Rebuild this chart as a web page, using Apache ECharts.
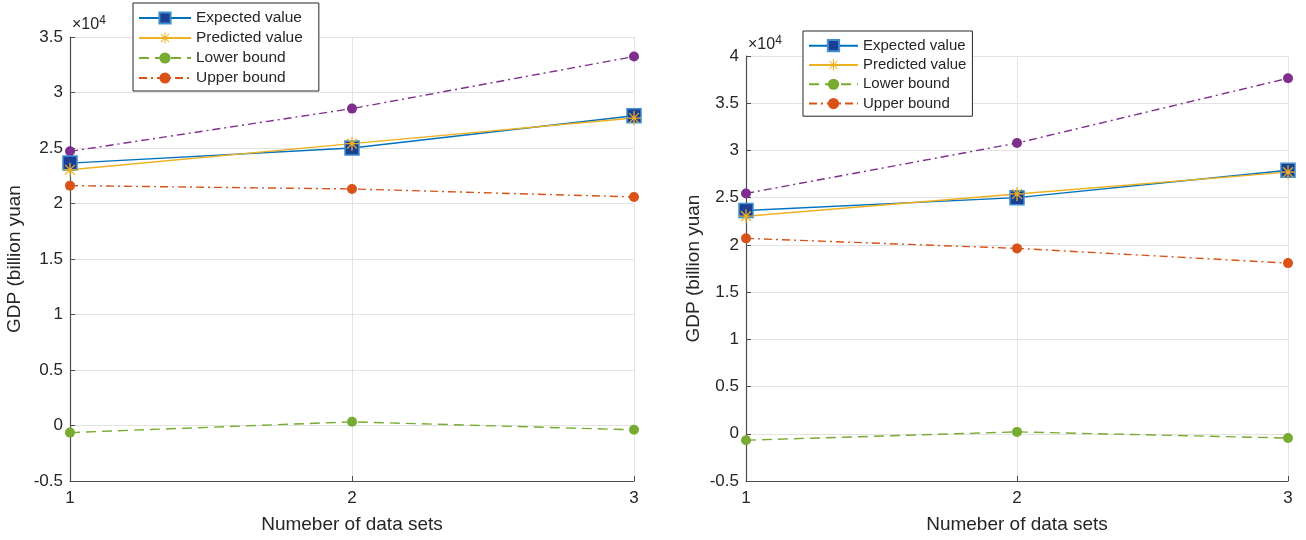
<!DOCTYPE html>
<html>
<head>
<meta charset="utf-8">
<script src="https://cdn.jsdelivr.net/npm/echarts@6/dist/echarts.min.js"></script>
<style>
  html, body { margin: 0; padding: 0; background: #fff; }
  #chart { width: 1306px; height: 540px; }
</style>
</head>
<body>
<div id="chart"></div>
<script>
// Data sets on the x axis
const dataSets = [1, 2, 3];

// GDP values (billion yuan), shared by both panels
const expectedValue = [23640, 25000, 27900];
const predictedValue = [23040, 25390, 27700];

// Left panel bounds
const lowerBoundA = [-640, 330, -390];
const upperBoundA = [21610, 21310, 20590];
const upperLimitA = [24700, 28550, 33240];

// Right panel bounds
const lowerBoundB = [-680, 200, -450];
const upperBoundB = [20690, 19630, 18070];
const upperLimitB = [25450, 30780, 37640];

// Y tick settings (labels shown in units of 1e4)
const yTicksA = { min: -5000, max: 35000, interval: 5000 };
const yTicksB = { min: -5000, max: 40000, interval: 5000 };

const legendNames = ['Expected value', 'Predicted value', 'Lower bound', 'Upper bound'];

const C = {
  blue: '#0072BD',
  navy: '#1C3F94',
  yellow: '#EDB120',
  green: '#77AC30',
  orange: '#D95319',
  purple: '#7E2F8E',
  axis: '#4d4d4d',
  text: '#262626',
  grid: '#e3e3e3'
};
const FONT = 'Liberation Sans, Arial, Helvetica, sans-serif';

// asterisk marker built from four thin bars
const STAR = 'path://M0 9.1L20 9.1L20 10.9L0 10.9Z M9.1 0L10.9 0L10.9 20L9.1 20Z ' +
  'M3.6 2.4L17.6 16.4L16.4 17.6L2.4 3.6Z M16.4 2.4L17.6 3.6L3.6 17.6L2.4 16.4Z';

const pairs = (ys) => dataSets.map((x, i) => [x, ys[i]]);

function panelSeries(idx, lower, upper, limit) {
  const common = { xAxisIndex: idx, yAxisIndex: idx, clip: false, animation: false, z: 3 };
  return [
    Object.assign({
      name: 'Upper limit', type: 'line', data: pairs(limit),
      symbol: 'circle', symbolSize: 10,
      itemStyle: { color: C.purple },
      lineStyle: { color: C.purple, width: 1.4, type: [8, 4, 2, 4] }
    }, common),
    Object.assign({
      name: 'Upper bound', type: 'line', data: pairs(upper),
      symbol: 'circle', symbolSize: 10,
      itemStyle: { color: C.orange },
      lineStyle: { color: C.orange, width: 1.4, type: [8, 4, 2, 4] }
    }, common),
    Object.assign({
      name: 'Lower bound', type: 'line', data: pairs(lower),
      symbol: 'circle', symbolSize: 10,
      itemStyle: { color: C.green },
      lineStyle: { color: C.green, width: 1.4, type: [10, 6] }
    }, common),
    Object.assign({
      name: 'Expected value', type: 'line', data: pairs(expectedValue),
      symbol: 'rect', symbolSize: 14,
      itemStyle: { color: C.navy, borderColor: '#3E8ED0', borderWidth: 1.5 },
      lineStyle: { color: C.blue, width: 1.4 }
    }, common),
    Object.assign({
      name: 'Predicted value', type: 'line', data: pairs(predictedValue),
      symbol: STAR, symbolSize: 14,
      itemStyle: { color: C.yellow },
      lineStyle: { color: C.yellow, width: 1.4 }
    }, common)
  ];
}

function xAxis(idx) {
  return {
    gridIndex: idx, type: 'value', min: 1, max: 3, interval: 1,
    name: 'Numeber of data sets', nameLocation: 'middle', nameGap: 34,
    nameTextStyle: { fontFamily: FONT, fontSize: 19, color: C.text },
    axisLine: { show: true, onZero: false, lineStyle: { color: C.axis, width: 1.2 } },
    axisTick: { show: true, inside: true, length: 5, lineStyle: { color: C.axis } },
    axisLabel: { fontFamily: FONT, fontSize: 17, color: C.text, margin: 9 },
    splitLine: { show: true, lineStyle: { color: C.grid, width: 1 } }
  };
}

function yAxis(idx, t, gap) {
  return {
    gridIndex: idx, type: 'value', min: t.min, max: t.max, interval: t.interval,
    name: 'GDP (billion yuan', nameLocation: 'middle', nameGap: gap,
    nameTextStyle: { fontFamily: FONT, fontSize: 19, color: C.text },
    axisLine: { show: true, onZero: false, lineStyle: { color: C.axis, width: 1.2 } },
    axisTick: { show: true, inside: true, length: 5, lineStyle: { color: C.axis } },
    axisLabel: {
      fontFamily: FONT, fontSize: 17, color: C.text, margin: 7,
      formatter: (v) => String(Math.round(v / 1000) / 10)
    },
    splitLine: { show: true, lineStyle: { color: C.grid, width: 1 } }
  };
}

function legend(left, top, gap, padding, itemWidth, fontSize, lineHeight) {
  return {
    data: legendNames, orient: 'vertical', left: left, top: top,
    itemWidth: itemWidth, itemHeight: 14, itemGap: gap,
    padding: padding, backgroundColor: '#fff',
    borderColor: '#262626', borderWidth: 1, borderRadius: 0,
    selectedMode: false,
    textStyle: { fontFamily: FONT, fontSize: fontSize, lineHeight: lineHeight, color: C.text }
  };
}

function multiplier(x, y) {
  return {
    type: 'text', left: x, top: y, z: 10,
    style: {
      text: '×10{s|4}', fill: C.text,
      font: '16px ' + FONT,
      rich: { s: { fontSize: 12, fontFamily: FONT, fill: C.text, verticalAlign: 'top', padding: [0, 0, 8, 0] } }
    }
  };
}

const chart = echarts.init(document.getElementById('chart'), null, { renderer: 'canvas' });
chart.setOption({
  animation: false,
  backgroundColor: '#fff',
  grid: [
    { left: 70, top: 37, width: 564, height: 444 },
    { left: 746, top: 56, width: 542, height: 425 }
  ],
  xAxis: [xAxis(0), xAxis(1)],
  yAxis: [yAxis(0, yTicksA, 46), yAxis(1, yTicksB, 43)],
  legend: [
    legend(133, 3, 4, [7, 16, 5, 5], 52, 15.5, 16),
    legend(803, 31, 4, [7, 6, 5, 5], 49, 15, 15.3)
  ],
  graphic: [multiplier(72, 15), multiplier(748, 35)],
  series: panelSeries(0, lowerBoundA, upperBoundA, upperLimitA)
    .concat(panelSeries(1, lowerBoundB, upperBoundB, upperLimitB))
});
</script>
</body>
</html>
